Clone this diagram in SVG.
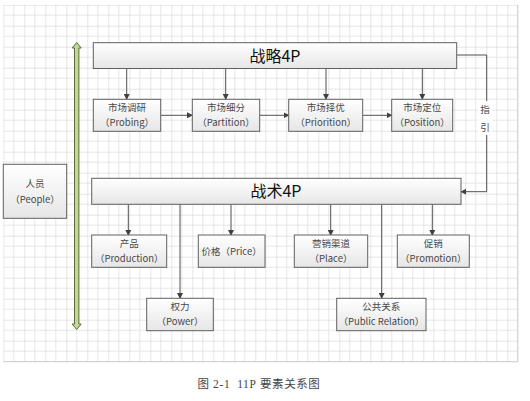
<svg xmlns="http://www.w3.org/2000/svg" width="530" height="401" viewBox="0 0 530 401">
<defs>
<pattern id="grid" x="3.3" y="4.7" width="21" height="21" patternUnits="userSpaceOnUse">
<path d="M10.5 0V21M0 10.5H21" stroke="#e6e6e6" stroke-width="1" fill="none"/>
<path d="M0 0V21M0 0H21" stroke="#cbcbcb" stroke-width="1" fill="none"/>
</pattern>
<linearGradient id="bg" x1="0" y1="0" x2="0" y2="1">
<stop offset="0" stop-color="#ffffff"/>
<stop offset="1" stop-color="#e6e6e6"/>
</linearGradient>
<marker id="ah" markerWidth="6" markerHeight="6" refX="5" refY="3" orient="auto" markerUnits="userSpaceOnUse">
<path d="M0 0L6 3L0 6Z" fill="#404040"/>
</marker>
</defs>
<style>
.box{fill:url(#bg);stroke:#606060;stroke-width:1}
.t{font-family:"Noto Sans CJK SC","Microsoft YaHei",sans-serif;font-size:9.5px;fill:#484848;text-anchor:middle}
.big{font-family:"Noto Sans CJK SC",sans-serif;font-size:16px;fill:#111;text-anchor:middle}
.c{stroke:#505050;stroke-width:1;fill:none;marker-end:url(#ah)}
</style>
<rect x="0" y="0" width="530" height="401" fill="#fff"/>
<rect x="3.3" y="4.7" width="514.5" height="357" fill="url(#grid)"/>
<path d="M517.8 4.7V361.7M3.3 361.7H517.8" stroke="#cbcbcb" stroke-width="1"/>

<g id="connectors">
<path class="c" d="M126.7 68.5V99"/>
<path class="c" d="M225.7 68.5V99"/>
<path class="c" d="M326 68.5V99"/>
<path class="c" d="M422.3 68.5V99"/>
<path class="c" d="M160.7 115.3H192"/>
<path class="c" d="M259.7 115.3H288.5"/>
<path class="c" d="M362.7 115.3H391.5"/>
<path class="c" d="M456.7 55H486.7V191.7H461.3"/>
<rect x="478" y="101" width="14" height="34" fill="#fff"/>
<text x="485" y="113" class="t">指</text>
<text x="485" y="131" class="t">引</text>
<path class="c" d="M128.3 204.5V235"/>
<path class="c" d="M180 204.5V298"/>
<path class="c" d="M231 204.5V235"/>
<path class="c" d="M330.7 204.5V235"/>
<path class="c" d="M381.7 204.5V298"/>
<path class="c" d="M432.3 204.5V235"/>
</g>

<g id="arrow-people">
<path d="M76.7 42.5L81.2 48H78.9V324H81.2L76.7 329.5L72.2 324H74.5V48H72.2Z" fill="#c3d69b" stroke="#5e6b3a" stroke-width="1"/>
</g>

<g id="strategy">
<rect class="box" x="93.3" y="42.7" width="363.4" height="25.8"/>
<text x="275" y="61.5" class="big">战略4P</text>
</g>
<g id="probing">
<rect class="box" x="93.3" y="99.3" width="67.4" height="32"/>
<text x="127" y="111" class="t">市场调研</text>
<text x="127" y="126" class="t">（Probing）</text>
</g>
<g id="partition">
<rect class="box" x="192.3" y="99.3" width="67.4" height="32"/>
<text x="226" y="111" class="t">市场细分</text>
<text x="226" y="126" class="t">（Partition）</text>
</g>
<g id="priorition">
<rect class="box" x="288.7" y="99.3" width="74" height="32"/>
<text x="325.7" y="111" class="t">市场择优</text>
<text x="325.7" y="126" class="t">（Priorition）</text>
</g>
<g id="position">
<rect class="box" x="391.7" y="99.3" width="61" height="32"/>
<text x="422.2" y="111" class="t">市场定位</text>
<text x="422.2" y="126" class="t">（Position）</text>
</g>
<g id="people">
<rect class="box" x="3.3" y="164.3" width="63.4" height="54"/>
<text x="35" y="187" class="t">人员</text>
<text x="35" y="203" class="t">（People）</text>
</g>
<g id="tactics">
<rect class="box" x="91.7" y="178.3" width="369.3" height="26"/>
<text x="276" y="196.7" class="big">战术4P</text>
</g>
<g id="production">
<rect class="box" x="91.7" y="235" width="75" height="32.3"/>
<text x="129.2" y="246.5" class="t">产品</text>
<text x="129.2" y="261.5" class="t">（Production）</text>
</g>
<g id="price">
<rect class="box" x="198.3" y="235" width="66.7" height="32.3"/>
<text x="231.6" y="254.5" class="t">价格（Price）</text>
</g>
<g id="place">
<rect class="box" x="294.3" y="235" width="73.4" height="32.3"/>
<text x="331" y="246.5" class="t">营销渠道</text>
<text x="331" y="261.5" class="t">（Place）</text>
</g>
<g id="promotion">
<rect class="box" x="397.3" y="235" width="72" height="32.3"/>
<text x="433.3" y="246.5" class="t">促销</text>
<text x="433.3" y="261.5" class="t">（Promotion）</text>
</g>
<g id="power">
<rect class="box" x="146.7" y="298.3" width="66.6" height="32.4"/>
<text x="180" y="310" class="t">权力</text>
<text x="180" y="325" class="t">（Power）</text>
</g>
<g id="public-relation">
<rect class="box" x="336.7" y="298.3" width="89.3" height="32.4"/>
<text x="381.3" y="310" class="t">公共关系</text>
<text x="381.3" y="325" class="t">（Public Relation）</text>
</g>
<text x="259" y="388" font-family="'Liberation Serif','Noto Sans CJK SC',serif" font-size="11.5" fill="#444" text-anchor="middle" letter-spacing="0.6">图&#160;2-1&#160;&#160;11P&#160;要素关系图</text>
</svg>
